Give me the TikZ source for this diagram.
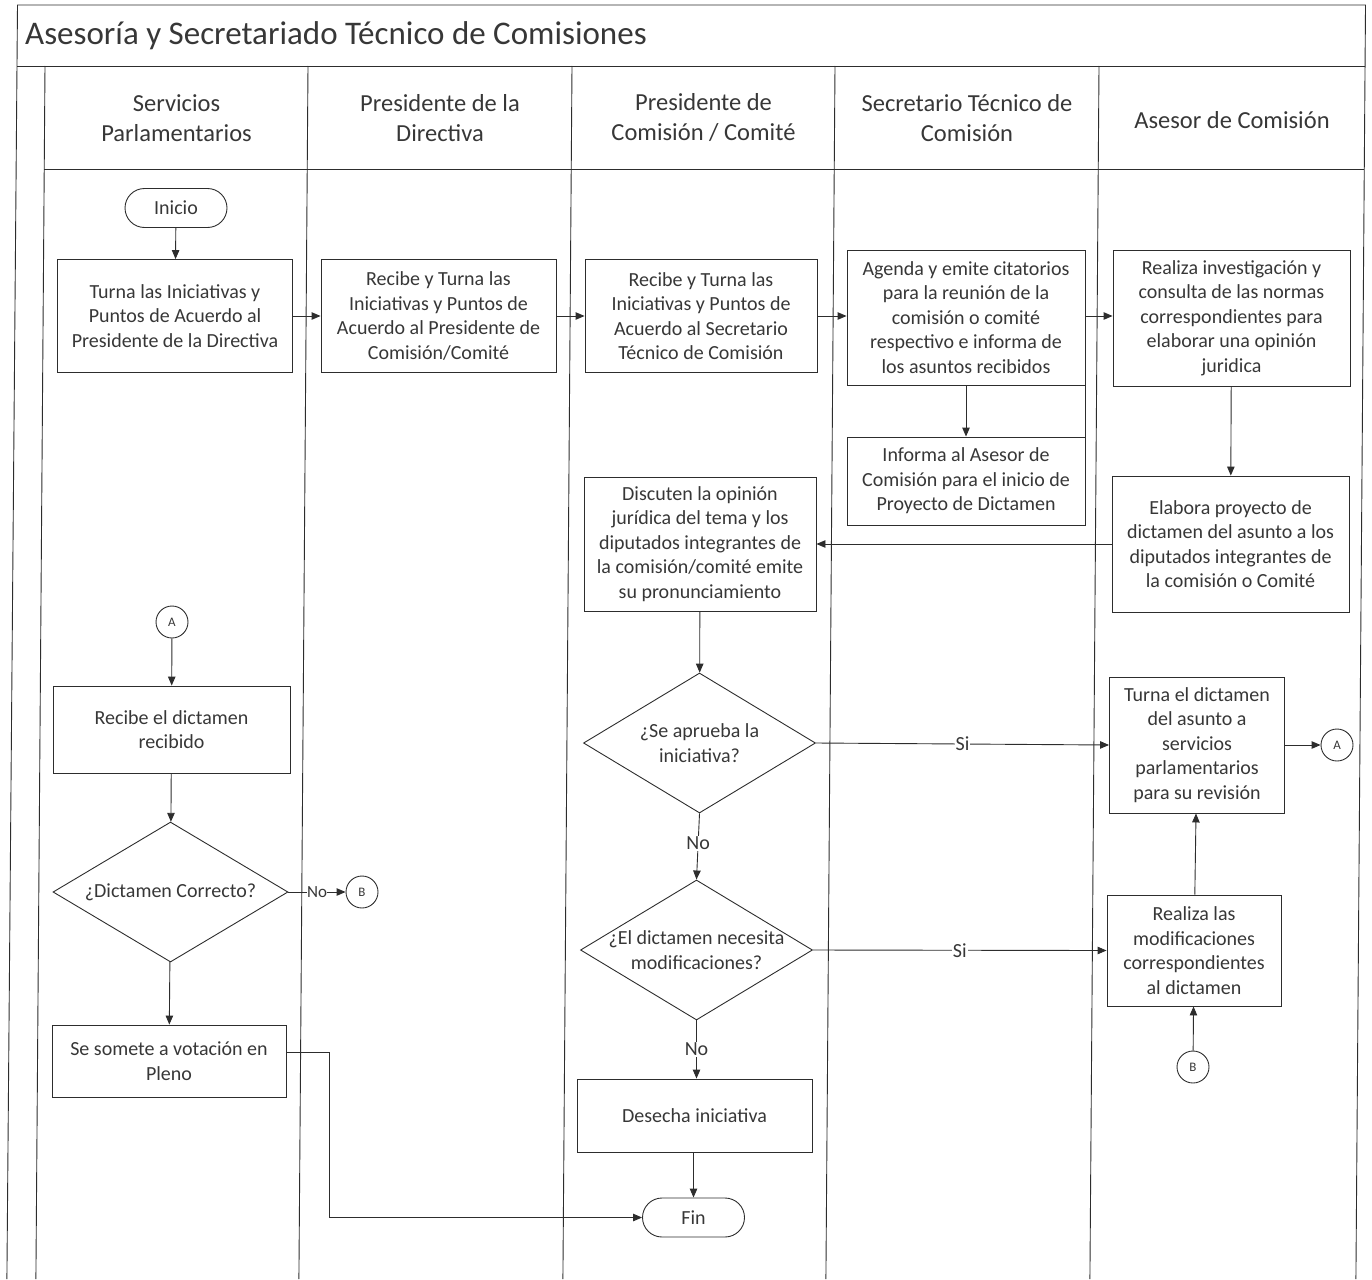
\documentclass[tikz,border=0pt]{standalone}
\usepackage{fontspec}
\setmainfont{Carlito}
\usetikzlibrary{arrows.meta,shapes.geometric,shapes.misc}
\definecolor{ink}{RGB}{45,45,45}
\definecolor{txt}{RGB}{55,55,55}
\tikzset{
  lane/.style={draw=ink,line width=0.9pt},
  stepbox/.style={draw=ink,line width=0.9pt,rectangle,inner sep=2pt,align=center,
    font=\fontsize{20}{24.5}\selectfont,text=txt},
  term/.style={draw=ink,line width=0.9pt,rounded rectangle,minimum width=102pt,minimum height=39pt,
    inner sep=0pt,font=\fontsize{20}{24.5}\selectfont,text=txt},
  dec/.style={draw=ink,line width=0.9pt,diamond,inner sep=0pt,minimum width=232pt,minimum height=140pt},
  dectext/.style={align=center,font=\fontsize{20}{24.5}\selectfont,text=txt,inner sep=0pt},
  conn/.style={draw=ink,line width=0.9pt,circle,minimum size=32pt,inner sep=0pt,
    font=\fontsize{13}{15}\selectfont,text=txt},
  hdr/.style={align=center,font=\fontsize{24.5}{30}\selectfont,text=txt,inner sep=0pt},
  arr/.style={draw=ink,line width=0.9pt,-{Triangle[length=9pt,width=7.5pt]}},
  ln/.style={draw=ink,line width=0.9pt},
  lbl/.style={fill=white,inner sep=1pt,font=\fontsize{20}{24}\selectfont,text=txt}
}
\begin{document}
\begin{tikzpicture}[x=1pt,y=-1pt]
\useasboundingbox (0,0) rectangle (1372,1279);
% frame and lanes (the scanned sheet leans slightly)
\draw[lane] (6.9,1279) -- (17.5,5) -- (1365.5,5) -- (1355.9,1279);
\draw[lane] (17,66) -- (1365,66);
\draw[lane] (44.2,169) -- (1364.2,169);
\foreach \x in {45,308,572,835,1099} \draw[lane] (\x,66) -- ({\x-9.1},1279);
\node[anchor=west,font=\fontsize{33}{38}\selectfont,text=txt,inner sep=0pt] (title) at (25,36) {Asesoría y Secretariado Técnico de Comisiones};
\node[hdr] (h1) at (176.5,118) {Servicios\\Parlamentarios};
\node[hdr] (h2) at (440,118) {Presidente de la\\Directiva};
\node[hdr] (h3) at (703.5,118) {Presidente de\\Comisión / Comité};
\node[hdr] (h4) at (967,118) {Secretario Técnico de\\Comisión};
\node[hdr] (h5) at (1232,120) {Asesor de Comisión};
% nodes
\node[term] (ini) at (176,208) {Inicio};
\node[stepbox,minimum width=235pt,minimum height=113pt] (b1) at (175,316) {Turna las Iniciativas y\\Puntos de Acuerdo al\\Presidente de la Directiva};
\node[stepbox,minimum width=235pt,minimum height=113pt] (b2) at (438.5,316) {Recibe y Turna las\\Iniciativas y Puntos de\\Acuerdo al Presidente de\\Comisión/Comité};
\node[stepbox,minimum width=232pt,minimum height=113pt] (b3) at (701,316) {Recibe y Turna las\\Iniciativas y Puntos de\\Acuerdo al Secretario\\Técnico de Comisión};
\node[stepbox,minimum width=238pt,minimum height=135pt] (b4) at (966,317.5) {Agenda y emite citatorios\\para la reunión de la\\comisión o comité\\respectivo e informa de\\los asuntos recibidos};
\node[stepbox,minimum width=237pt,minimum height=136pt] (b5) at (1231.5,318) {Realiza investigación y\\consulta de las normas\\correspondientes para\\elaborar una opinión\\juridica};
\node[stepbox,minimum width=238pt,minimum height=88pt] (b6) at (966,481) {Informa al Asesor de\\Comisión para el inicio de\\Proyecto de Dictamen};
\node[stepbox,minimum width=232pt,minimum height=134pt] (b7) at (700,544) {Discuten la opinión\\jurídica del tema y los\\diputados integrantes de\\la comisión/comité emite\\su pronunciamiento};
\node[stepbox,minimum width=237pt,minimum height=136pt] (b8) at (1230.5,544) {Elabora proyecto de\\dictamen del asunto a los\\diputados integrantes de\\la comisión o Comité};
\node[dec] (d1) at (699.5,743) {};
\node[dectext] (d1t) at (d1) {¿Se aprueba la\\iniciativa?};
\node[dec] (d2) at (696.5,950) {};
\node[dectext] (d2t) at (d2) {¿El dictamen necesita\\modificaciones?};
\node[stepbox,minimum width=235pt,minimum height=73pt] (b9) at (694.5,1115.5) {Desecha iniciativa};
\node[term] (fin) at (693.5,1217.5) {Fin};
\node[stepbox,minimum width=175pt,minimum height=136pt] (b10) at (1197,745) {Turna el dictamen\\del asunto a\\servicios\\parlamentarios\\para su revisión};
\node[conn] (ar) at (1337,745) {A};
\node[stepbox,minimum width=174pt,minimum height=111pt] (b11) at (1194,950.5) {Realiza las\\modificaciones\\correspondientes\\al dictamen};
\node[conn] (br) at (1193,1067) {B};
\node[conn] (al) at (172,622) {A};
\node[stepbox,minimum width=237pt,minimum height=87pt] (b12) at (171.5,729.5) {Recibe el dictamen\\recibido};
\node[dec,minimum width=235pt] (d3) at (170.5,892) {};
\node[dectext] (d3t) at (d3) {¿Dictamen Correcto?};
\node[conn] (bl) at (362,892) {B};
\node[stepbox,minimum width=234pt,minimum height=72pt] (b13) at (169,1061) {Se somete a votación en\\Pleno};
\coordinate (bend) at (329,1052);
% connectors
\draw[arr] (ini) -- (b1);
\draw[arr] (b1) -- (b2);
\draw[arr] (b2) -- (b3);
\draw[arr] (b3.east) -- (b3.east -| b4.west);
\draw[arr] (b4.east |- b3.east) -- (b3.east -| b5.west);
\draw[ln] (b6.north east) -- (b6.north east |- b3.east);
\draw[arr] (b4) -- (b6);
\draw[arr] (b5) -- (b8);
\draw[arr] (b8.west) -- (b7.east);
\draw[arr] (b7) -- (d1);
\draw[arr] (d1.east) -- node[lbl] (si1) {Si} (b10.west);
\draw[arr] (d1.south) -- node[lbl,pos=0.45] (no1) {No} (d2.north);
\draw[arr] (d2.east) -- node[lbl] (si2) {Si} (b11.west);
\draw[arr] (d2.south) -- node[lbl,pos=0.5] (no2) {No} (d2.south |- b9.north);
\draw[arr] (b9.south -| fin) -- (fin);
\draw[arr] (b11) -- (b10);
\draw[arr] (br) -- (b11);
\draw[arr] (b10.east) -- (ar);
\draw[arr] (al) -- (b12);
\draw[arr] (b12) -- (d3);
\draw[arr] (d3.east) -- node[lbl,font=\fontsize{17}{20}\selectfont,inner sep=0.5pt] (no3) {No} (bl);
\draw[arr] (d3) -- (b13);
\draw[arr] (b13.east |- bend) -- (bend) |- (fin.west);
\end{tikzpicture}
\end{document}
